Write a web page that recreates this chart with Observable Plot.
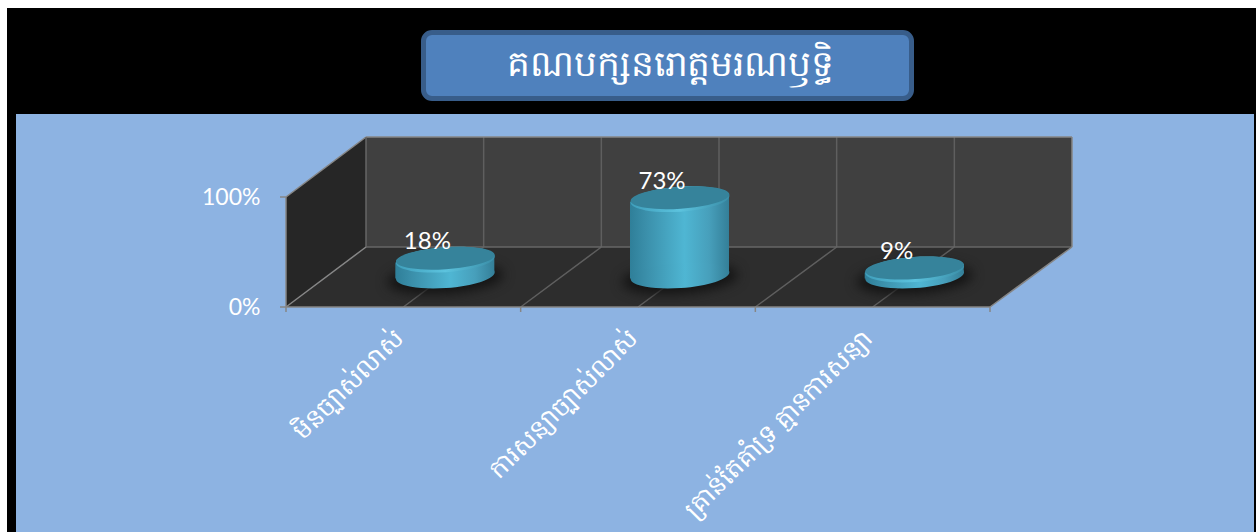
<!DOCTYPE html>
<html lang="km"><head><meta charset="utf-8">
<script src="https://cdn.jsdelivr.net/npm/d3@7"></script>
<script src="https://cdn.jsdelivr.net/npm/@observablehq/plot@0.6"></script>
<style>
html,body{margin:0;padding:0;background:#fff;overflow:hidden;width:1256px;height:532px}
#wrap{position:absolute;left:7px;top:8px;width:1249px;height:524px;background:#000;overflow:hidden}
#title{position:absolute;left:414px;top:22px;width:493px;height:71px;box-sizing:border-box;padding-left:6px;background:#4f81bd;border:5px solid #385d8a;border-radius:11px;color:#fff;
font:300 36px "Noto Sans","DejaVu Sans",sans-serif;display:flex;align-items:center;justify-content:center}
#panel{position:absolute;left:9px;top:106px}
svg{display:block}
</style></head><body>
<div id="wrap"><div id="title"></div><div id="panel"></div></div>
<script>
const titleText = "គណបក្សនរោត្តមរណឫទ្ធិ";
const categories = ["មិនច្បាស់លាស់","ការសន្យាច្បាស់លាស់","គ្រាន់តែគាំទ្រ គ្មានការសន្យា"];
const values = [18,73,9];
const labels = ["18%","73%","9%"];
const yTicks = [0,100];

document.getElementById("title").textContent = titleText;
const rows = categories.map((c,i)=>({category:c,value:values[i],label:labels[i]}));
const depth = {x:80,y:-60,stretch:2}, mid = {x:41.5,y:-32}, bevel = 3.6;
const tilt = -4*Math.PI/180;
const ellipse = (rx,ry)=>({draw(ctx){
  const k=4/3*Math.tan(Math.PI/16), c=Math.cos(tilt), s=Math.sin(tilt);
  const P=(x,y)=>[x*c-y*s,x*s+y*c];
  let a=0; ctx.moveTo(...P(rx,0));
  for(let i=0;i<8;i++){const b=a+Math.PI/4;
    const x0=Math.cos(a),y0=Math.sin(a),x1=Math.cos(b),y1=Math.sin(b);
    ctx.bezierCurveTo(...P(rx*(x0-k*y0),ry*(y0+k*x0)),...P(rx*(x1+k*y1),ry*(y1-k*x1)),...P(rx*x1,ry*y1));
    a=b;}
  ctx.closePath();
}});
const NS="http://www.w3.org/2000/svg";
function el(tag,attrs,kids=[]){const e=document.createElementNS(NS,tag);for(const k in attrs)e.setAttribute(k,attrs[k]);kids.forEach(x=>e.appendChild(x));return e;}
const defs=()=>el("defs",{},[
 el("linearGradient",{id:"cyl"},[
  el("stop",{offset:"0","stop-color":"#2f7f99"}),
  el("stop",{offset:"0.15","stop-color":"#3a8ea9"}),
  el("stop",{offset:"0.55","stop-color":"#4fb6d3"}),
  el("stop",{offset:"0.8","stop-color":"#479fbb"}),
  el("stop",{offset:"1","stop-color":"#347f98"})]),
 el("linearGradient",{id:"capRim"},[
  el("stop",{offset:"0","stop-color":"#3f9fbc"}),
  el("stop",{offset:"0.5","stop-color":"#5cc3de"}),
  el("stop",{offset:"1","stop-color":"#3a8ea8"})])
]);
function box(i,scales,v,dim){
  const {marginLeft:L,width:W,marginRight:R}=dim;
  const y0=scales.y(0), y1=scales.y(100), w=(W-L-R), n=categories.length;
  const edge=t=>L+w*t/n;
  const back=t=>L+depth.x+(w+depth.stretch)*t/n;
  const poly=(pts,fill)=>el("polygon",{points:pts.map(p=>p.join(",")).join(" "),fill});
  const line=(a,b,stroke)=>el("line",{x1:a[0],y1:a[1],x2:b[0],y2:b[1],stroke,"stroke-width":1.5});
  const g=el("g",{});
  const d=depth, xl=L, xr=L+w, bl=back(0), br=back(n);
  g.appendChild(poly([[xl,y1],[bl,y1+d.y],[bl,y0+d.y],[xl,y0]],"#262626"));
  g.appendChild(poly([[bl,y1+d.y],[br,y1+d.y],[br,y0+d.y],[bl,y0+d.y]],"#404040"));
  g.appendChild(poly([[xl,y0],[bl,y0+d.y],[br,y0+d.y],[xr,y0]],"#2d2d2d"));
  for(let t=0.5;t<n;t+=0.5){
    g.appendChild(line([back(t),y0+d.y],[back(t),y1+d.y],"#5f5f5f"));
    g.appendChild(line([edge(t),y0],[back(t),y0+d.y],"#5f5f5f"));
  }
  g.appendChild(line([bl,y0+d.y],[br,y0+d.y],"#666"));
  g.appendChild(line([xr,y0],[br,y0+d.y],"#868686"));
  g.appendChild(line([br,y0+d.y],[br,y1+d.y],"#868686"));
  g.appendChild(line([bl,y1+d.y],[br,y1+d.y],"#868686"));
  g.appendChild(line([xl,y1],[bl,y1+d.y],"#868686"));
  g.appendChild(line([bl,y1+d.y],[bl,y0+d.y],"#666"));
  g.appendChild(line([xl,y0],[bl,y0+d.y],"#868686"));
  g.appendChild(line([xl,y1],[xl,y0],"#868686"));
  g.appendChild(line([xl,y0],[xr,y0],"#868686"));
  for(let t=0;t<=n;t++) g.appendChild(line([edge(t),y0],[edge(t),y0+5],"#868686"));
  for(const v of yTicks) g.appendChild(line([xl-6,scales.y(v)],[xl,scales.y(v)],"#868686"));
  return g;
}
const skew={render(index,scales,values,dim,ctx,next){
  const g=next(index,scales,values,dim,ctx);
  g.querySelectorAll("rect").forEach(r=>{
    const cx=+r.getAttribute("x")+(+r.getAttribute("width"))/2;
    r.setAttribute("transform",`translate(${cx},0) skewY(${tilt*180/Math.PI}) translate(${-cx},0)`);
  });
  return g;}};
const capVal=d=>d.value-bevel;
const chart=Plot.plot({
  width:1238,height:418,
  marginLeft:270,marginRight:264,marginTop:83,marginBottom:225,
  style:{background:"#8db3e2",fontFamily:"Lato,sans-serif",color:"#fff",overflow:"hidden"},
  x:{domain:categories,padding:0,round:false,label:null},
  y:{domain:[0,100],label:null},
  marks:[
    defs,box,
    Plot.dot(rows,{x:"category",y:0,dx:mid.x,dy:mid.y+3,symbol:ellipse(58,15),fill:"#111",fillOpacity:.9,imageFilter:"blur(6px)"}),
    Plot.barY(rows,{x:"category",y1:0,y2:capVal,dx:mid.x,dy:mid.y,fill:"url(#cyl)",insetLeft:(234.67-99)/2,insetRight:(234.67-99)/2,...skew}),
    Plot.dot(rows,{x:"category",y:0,dx:mid.x,dy:mid.y,symbol:ellipse(49.5,12.5),fill:"url(#cyl)"}),
    Plot.dot(rows,{x:"category",y:capVal,dx:mid.x,dy:mid.y,symbol:ellipse(49.5,12.5),fill:"url(#capRim)"}),
    Plot.dot(rows,{x:"category",y:capVal,dx:mid.x,dy:mid.y-1.5,symbol:ellipse(49.5,11),fill:"#36839b"}),
    Plot.text(rows,{x:"category",y:capVal,text:"label",dx:mid.x-18,dy:mid.y-18,fill:"#fff",fontSize:24,fontFamily:"Lato,sans-serif"}),
    Plot.axisY({ticks:yTicks,tickFormat:d=>d+"%",tickSize:0,tickPadding:26,fill:"#fff",fontSize:23,label:null,fontFamily:"Lato,sans-serif"}),
    Plot.axisX({tickSize:0,tickRotate:-45,tickPadding:21,dx:-5,dy:6,fill:"#fff",fontSize:25.5,label:null,textAnchor:"end",lineWidth:Infinity,textOverflow:null,fontFamily:'"Noto Sans","DejaVu Sans",sans-serif',fontWeight:300})
  ]
});
document.getElementById("panel").appendChild(chart);
</script></body></html>
